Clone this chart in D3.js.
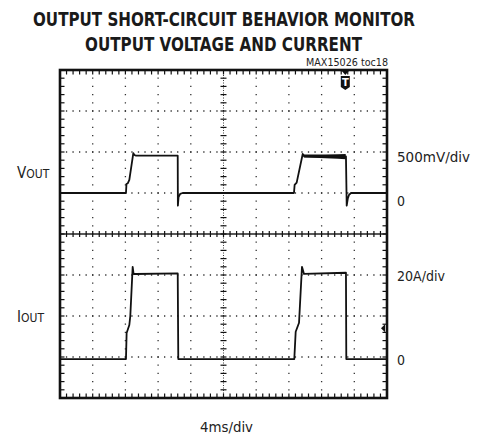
<!DOCTYPE html>
<html>
<head>
<meta charset="utf-8">
<script src="https://cdn.jsdelivr.net/npm/d3@7"></script>
<style>
  html, body { margin: 0; padding: 0; background: #fff; }
  svg { display: block; }
  .lbl { font-family: "Liberation Sans Narrow", "DejaVu Sans Condensed", "Liberation Sans", sans-serif; fill: #222; }
  .title { font-family: "DejaVu Sans", sans-serif; font-weight: 900; font-stretch: condensed; fill: #1a1a1a; }
</style>
</head>
<body>
<svg id="chart" width="485" height="436"></svg>
<script>
// scope settings
const timeDivs = 10;          // horizontal divisions
const msPerDiv = 4;
const vertDivs = 8;
const mvPerDiv = 500;
const ampPerDiv = 20;
const voutZeroDiv = 1;        // channel ground markers, in divisions from centre
const ioutZeroDiv = -3.05;

// VOUT trace: time (ms), volts (mV)
const voutTime = [0, 8.07, 8.13, 8.3, 8.48, 8.97, 9.09, 9.3, 12, 14.4, 14.42, 14.5, 14.7, 15.0,
  28.62, 28.7, 28.95, 29.69, 29.9, 34.98, 35.07, 35.2, 35.35, 35.6, 40];
const voutMv = [0, 0, 110, 120, 160, 485, 463, 455, 455, 455, -155, -50, -10, 0,
  0, 98, 126, 476, 445, 445, -155, -70, -24, 0, 0];

// noisy top of the second VOUT pulse: time (ms), low / high (mV)
const voutNoiseTime = [29.8, 31, 32.5, 34, 34.95];
const voutNoiseLo = [435, 430, 425, 418, 412];
const voutNoiseHi = [468, 468, 470, 474, 476];

// IOUT trace: time (ms), current (A)
const ioutTime = [0, 8.07, 8.15, 8.48, 8.6, 8.89, 9.0, 9.26, 14.4, 14.47,
  28.66, 28.83, 29.24, 29.6, 29.85, 34.98, 35.02, 40];
const ioutA = [0, 0, 12.7, 16.6, 21, 45, 41.5, 41.5, 41.8, 0,
  0, 13.3, 17.7, 45, 41.5, 42.1, 0, 0];

const triggerMs = 34.9;       // trigger position marker
const trigLevelA = 15;        // trigger level marker (right edge)

const titleLines = ["OUTPUT SHORT-CIRCUIT BEHAVIOR MONITOR", "OUTPUT VOLTAGE AND CURRENT"];
const tocLabel = "MAX15026 toc18";
const rightLabels = [["500mV/div", 162, 73], ["0", 206, 8], ["20A/div", 281, 48], ["0", 365, 8]];
const xLabel = "4ms/div";

const svg = d3.select("#chart");
const pLeft = 60, pRight = 387, pTop = 70, pBottom = 398;

const x = d3.scaleLinear().domain([0, timeDivs * msPerDiv]).range([pLeft, pRight]);
const y = d3.scaleLinear().domain([-vertDivs / 2, vertDivs / 2]).range([pBottom, pTop]);

const vDiv = mv => mv / mvPerDiv + voutZeroDiv;
const iDiv = a => a / ampPerDiv + ioutZeroDiv;

// title
svg.selectAll("text.title").data(titleLines).join("text")
  .attr("class", "title")
  .attr("x", (d, i) => i === 0 ? 33 : 85)
  .attr("y", (d, i) => i === 0 ? 25.5 : 50.5)
  .attr("font-size", 19.5)
  .attr("textLength", (d, i) => i === 0 ? 382 : 277)
  .attr("lengthAdjust", "spacingAndGlyphs")
  .text(d => d);

svg.append("text").attr("class", "lbl")
  .attr("x", 388).attr("y", 66)
  .attr("text-anchor", "end")
  .attr("font-size", 10)
  .attr("textLength", 82).attr("lengthAdjust", "spacingAndGlyphs")
  .text(tocLabel);

const plot = svg.append("g");

// dotted grid
const majorX = d3.range(1, timeDivs).map(d => d * msPerDiv).filter(d => d !== 20);
const majorY = d3.range(-3, 4).filter(d => d !== 0);

plot.selectAll("line.gx").data(majorX).join("line")
  .attr("class", "gx")
  .attr("x1", d => x(d)).attr("x2", d => x(d))
  .attr("y1", pTop).attr("y2", pBottom)
  .attr("stroke", "#333").attr("stroke-width", 1.3)
  .attr("stroke-dasharray", `1.3 ${(pBottom - pTop) / 40 - 1.3}`)
  .attr("stroke-dashoffset", 0.65);

plot.selectAll("line.gy").data(majorY).join("line")
  .attr("class", "gy")
  .attr("y1", d => y(d)).attr("y2", d => y(d))
  .attr("x1", pLeft).attr("x2", pRight)
  .attr("stroke", "#333").attr("stroke-width", 1.3)
  .attr("stroke-dasharray", `1.3 ${(pRight - pLeft) / 50 - 1.3}`)
  .attr("stroke-dashoffset", 0.65);

// minor divisions
const minorX = d3.range(1, timeDivs * 5).map(d => d * msPerDiv / 5);
const minorY = d3.range(1, vertDivs * 5).map(d => -vertDivs / 2 + d / 5);

// centre cross
plot.append("line")
  .attr("x1", pLeft).attr("x2", pRight).attr("y1", y(0)).attr("y2", y(0))
  .attr("stroke", "#222").attr("stroke-width", 1.3);
plot.append("line")
  .attr("x1", x(20)).attr("x2", x(20)).attr("y1", pTop).attr("y2", pBottom)
  .attr("stroke", "#222").attr("stroke-width", 0.9).attr("stroke-dasharray", "1 1.5");

// ticks: [orientation, position, length each side]
const tickGroups = [
  ["h", y(0), -3, 3],
  ["h", pTop, 0, 4.5],
  ["h", pBottom, -4.5, 0],
  ["v", x(20), -3, 3],
  ["v", pLeft, 0, 4.5],
  ["v", pRight, -4.5, 0]
];
tickGroups.forEach(([o, p, a, b]) => {
  if (o === "h") {
    plot.append("g").selectAll("line").data(minorX).join("line")
      .attr("x1", d => x(d)).attr("x2", d => x(d))
      .attr("y1", p + a).attr("y2", p + b)
      .attr("stroke", "#111").attr("stroke-width", 1.2);
  } else {
    plot.append("g").selectAll("line").data(minorY).join("line")
      .attr("y1", d => y(d)).attr("y2", d => y(d))
      .attr("x1", p + a).attr("x2", p + b)
      .attr("stroke", "#111").attr("stroke-width", 1.2);
  }
});

// traces
const voutPts = voutTime.map((t, i) => [x(t), y(vDiv(voutMv[i]))]);
const ioutPts = ioutTime.map((t, i) => [x(t), y(iDiv(ioutA[i]))]);
const line = d3.line();

plot.append("path")
  .datum(voutNoiseTime.map((t, i) => ({ t, lo: voutNoiseLo[i], hi: voutNoiseHi[i] })))
  .attr("d", d3.area().x(d => x(d.t)).y0(d => y(vDiv(d.lo))).y1(d => y(vDiv(d.hi))))
  .attr("fill", "#111");

plot.append("path").attr("d", line(voutPts))
  .attr("fill", "none").attr("stroke", "#111").attr("stroke-width", 1.8)
  .attr("stroke-linejoin", "round");
plot.append("path").attr("d", line(ioutPts))
  .attr("fill", "none").attr("stroke", "#111").attr("stroke-width", 1.8)
  .attr("stroke-linejoin", "round");

// frame
plot.append("rect")
  .attr("x", pLeft).attr("y", pTop)
  .attr("width", pRight - pLeft).attr("height", pBottom - pTop)
  .attr("fill", "none").attr("stroke", "#111").attr("stroke-width", 2.6);

// trigger position marker
const tx = x(triggerMs);
plot.append("path")
  .attr("d", `M${tx - 3.5},${pTop + 1}L${tx + 3.5},${pTop + 1}L${tx},${pTop + 5}Z`)
  .attr("fill", "#111");
plot.append("path")
  .attr("d", `M${tx - 4.5},${pTop + 6}L${tx + 4.5},${pTop + 6}L${tx + 4.5},${pTop + 17}L${tx},${pTop + 20}L${tx - 4.5},${pTop + 17}Z`)
  .attr("fill", "#111");
plot.append("text")
  .attr("x", tx).attr("y", pTop + 15.5)
  .attr("text-anchor", "middle").attr("font-size", 10).attr("font-weight", "bold")
  .attr("font-family", "DejaVu Sans, sans-serif").attr("fill", "#fff")
  .text("T");

// trigger level marker
const ty = y(iDiv(trigLevelA));
plot.append("path")
  .attr("d", `M${pRight - 6},${ty}L${pRight - 2},${ty - 4}L${pRight - 2},${ty + 4}Z`)
  .attr("fill", "#111");

// channel labels
const chLabel = (base, sub, ly) => {
  const t = svg.append("text").attr("class", "lbl").attr("x", 17).attr("y", ly);
  t.append("tspan").attr("font-size", 15).text(base);
  t.append("tspan").attr("font-size", 12).text(sub);
};
chLabel("V", "OUT", 178);
chLabel("I", "OUT", 322);

svg.selectAll("text.rl").data(rightLabels).join("text")
  .attr("class", "lbl")
  .attr("x", 397).attr("y", d => d[1])
  .attr("font-size", 14.5)
  .attr("textLength", d => d[2]).attr("lengthAdjust", "spacingAndGlyphs")
  .text(d => d[0]);

svg.append("text").attr("class", "lbl")
  .attr("x", 200).attr("y", 432)
  .attr("font-size", 14.5)
  .attr("textLength", 53).attr("lengthAdjust", "spacingAndGlyphs")
  .text(xLabel);
</script>
</body>
</html>
